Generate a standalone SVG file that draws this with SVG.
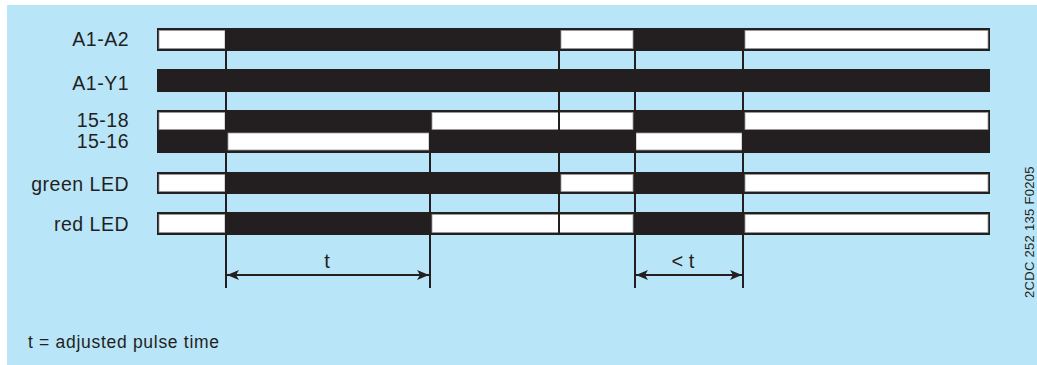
<svg xmlns="http://www.w3.org/2000/svg" width="1037" height="365" viewBox="0 0 1037 365">
<defs>
<style>
.lbl{font-family:"Liberation Sans",Arial,sans-serif;font-size:19.5px;letter-spacing:0.5px;fill:#231f20;text-anchor:end}
.dim{font-family:"Liberation Sans",Arial,sans-serif;font-size:20px;fill:#231f20;text-anchor:middle}
.note{font-family:"Liberation Sans",Arial,sans-serif;font-size:17.5px;letter-spacing:0.7px;fill:#231f20}
.code{font-family:"Liberation Sans",Arial,sans-serif;font-size:13px;letter-spacing:0.3px;fill:#231f20}
.bar{fill:#231f20;stroke:#231f20;stroke-width:2}
.w{fill:#ffffff;stroke:#9a9a9a;stroke-width:0.8}
.v{stroke:#231f20;stroke-width:2;fill:none}
.arr{stroke:#231f20;stroke-width:2;fill:none}
</style>
<marker id="ah" viewBox="0 0 12 10" refX="12" refY="5" markerWidth="12" markerHeight="10" markerUnits="userSpaceOnUse" orient="auto-start-reverse">
<path d="M0,0 L12,5 L0,10 L3,5 Z" fill="#231f20"/>
</marker>
</defs>
<rect x="0" y="0" width="1037" height="365" fill="#ffffff"/>
<rect x="7" y="5" width="1030" height="360" fill="#b9e5f9"/>

<g id="row-A1-A2">
<text class="lbl" x="129" y="46">A1-A2</text>
<rect class="bar" x="158" y="29" width="831" height="21"/>
<rect class="w" x="159" y="30.5" width="66" height="18"/>
<rect class="w" x="561" y="30.5" width="72" height="18"/>
<rect class="w" x="745" y="30.5" width="243" height="18"/>
</g>

<g id="row-A1-Y1">
<text class="lbl" x="129" y="90">A1-Y1</text>
<rect class="bar" x="158" y="70" width="831" height="21"/>
</g>

<g id="row-15-18">
<text class="lbl" x="129" y="127">15-18</text>
<rect class="bar" x="158" y="111" width="831" height="20"/>
<rect class="w" x="159" y="112.5" width="66" height="17"/>
<rect class="w" x="432" y="112.5" width="201" height="17"/>
<rect class="w" x="745" y="112.5" width="243" height="17"/>
</g>

<g id="row-15-16">
<text class="lbl" x="129" y="148">15-16</text>
<rect class="bar" x="158" y="131" width="831" height="21"/>
<rect class="w" x="228" y="133" width="201" height="17"/>
<rect class="w" x="636" y="133" width="106" height="17"/>
</g>

<g id="row-green-LED">
<text class="lbl" x="129" y="191">green LED</text>
<rect class="bar" x="158" y="173" width="831" height="20"/>
<rect class="w" x="159" y="174.5" width="66" height="17"/>
<rect class="w" x="561" y="174.5" width="72" height="17"/>
<rect class="w" x="745" y="174.5" width="243" height="17"/>
</g>

<g id="row-red-LED">
<text class="lbl" x="129" y="231">red LED</text>
<rect class="bar" x="158" y="213" width="831" height="21"/>
<rect class="w" x="159" y="214.5" width="66" height="18"/>
<rect class="w" x="432" y="214.5" width="201" height="18"/>
<rect class="w" x="745" y="214.5" width="243" height="18"/>
</g>

<g id="connectors">
<line class="v" x1="226" y1="29" x2="226" y2="288"/>
<line class="v" x1="430" y1="111" x2="430" y2="288"/>
<line class="v" x1="559" y1="29" x2="559" y2="234"/>
<line class="v" x1="635" y1="29" x2="635" y2="288"/>
<line class="v" x1="743" y1="29" x2="743" y2="288"/>
<line class="arr" x1="227" y1="275" x2="429" y2="275" marker-start="url(#ah)" marker-end="url(#ah)"/>
<line class="arr" x1="636" y1="275" x2="742" y2="275" marker-start="url(#ah)" marker-end="url(#ah)"/>
</g>

<g id="dim-labels">
<text class="dim" x="327" y="268">t</text>
<text class="dim" x="683" y="268">&lt; t</text>
</g>

<text class="note" x="28" y="348">t = adjusted pulse time</text>
<text class="code" transform="translate(1034,298) rotate(-90)">2CDC 252 135 F0205</text>
</svg>
